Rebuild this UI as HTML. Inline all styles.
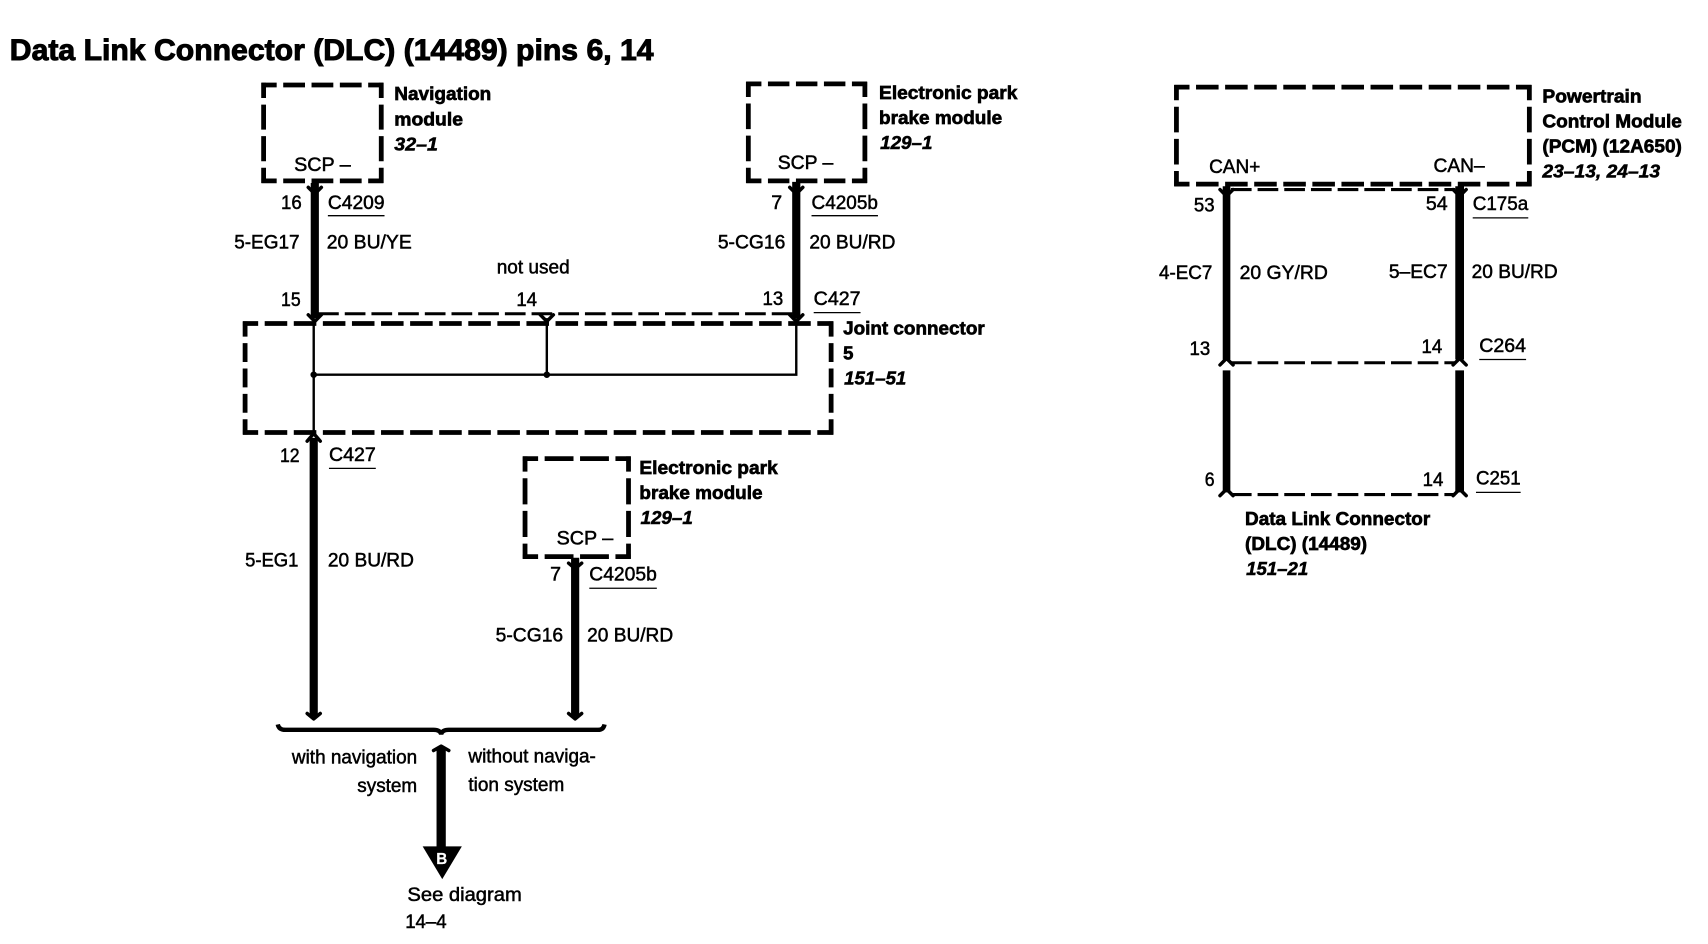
<!DOCTYPE html>
<html><head><meta charset="utf-8"><style>
html,body{margin:0;padding:0;background:#fff;width:1708px;height:944px;overflow:hidden}
svg{display:block}
text{font-family:"Liberation Sans",sans-serif;font-size:17.5px;fill:#000;stroke:#000;stroke-width:.45}
.b{font-weight:bold;font-size:17px;stroke-width:.6}
.i{font-weight:bold;font-style:italic;font-size:17px;stroke-width:.5}
.bx{fill:none;stroke:#000;stroke-width:4.4}
.dl{fill:none;stroke:#000;stroke-width:2.8;stroke-dasharray:19 5.5}
.w{stroke:#000;fill:none}
.t{stroke:#000;stroke-width:2.2;fill:none}
.f{stroke:#000;stroke-width:3.2;fill:none;stroke-linecap:round;stroke-linejoin:round}
.u{stroke:#000;stroke-width:1.2}
</style></head><body>
<svg xmlns="http://www.w3.org/2000/svg" width="1708" height="944" viewBox="0 0 1568 866.6">
<rect width="1568" height="866.6" fill="#fff"/>
<text x="9" y="55" class="b" style="font-size:27.5px;stroke-width:.9" textLength="591" lengthAdjust="spacingAndGlyphs">Data Link Connector (DLC) (14489) pins 6, 14</text>

<!-- Navigation module -->
<path class="bx" stroke-dasharray="20 6" stroke-dashoffset="6" d="M240 78H352M240 166H352"/>
<path class="bx" stroke-dasharray="23 6" stroke-dashoffset="9" d="M242 76V168M350 76V168"/>
<text x="362" y="92" class="b" textLength="89" lengthAdjust="spacingAndGlyphs">Navigation</text>
<text x="362" y="115" class="b" textLength="63" lengthAdjust="spacingAndGlyphs">module</text>
<text x="362" y="138" class="i" textLength="40" lengthAdjust="spacingAndGlyphs">32–1</text>
<text x="270" y="157" textLength="52" lengthAdjust="spacingAndGlyphs">SCP –</text>
<path class="w" stroke-width="7.5" d="M289 168V292"/>
<path class="f" d="M283 172L289 178L295 172M283 289L289 295L295 289"/>
<text x="258" y="192" textLength="19" lengthAdjust="spacingAndGlyphs">16</text>
<text x="301" y="192" textLength="52" lengthAdjust="spacingAndGlyphs">C4209</text><path class="u" d="M301 198H353"/>
<text x="215" y="228" textLength="60" lengthAdjust="spacingAndGlyphs">5-EG17</text>
<text x="300" y="228" textLength="78" lengthAdjust="spacingAndGlyphs">20 BU/YE</text>

<!-- top dashed & labels -->
<text x="456" y="251" textLength="67" lengthAdjust="spacingAndGlyphs">not used</text>
<text x="258" y="281" textLength="18" lengthAdjust="spacingAndGlyphs">15</text>
<text x="474" y="281" textLength="19" lengthAdjust="spacingAndGlyphs">14</text>
<text x="700" y="280" textLength="19" lengthAdjust="spacingAndGlyphs">13</text>
<text x="747" y="280" textLength="43" lengthAdjust="spacingAndGlyphs">C427</text><path class="u" d="M747 287H790"/>
<path class="dl" d="M292 288H730"/>
<path class="f" d="M496 289L502 295L508 289"/>

<!-- Joint connector -->
<path class="bx" stroke-dasharray="20.7 6" stroke-dashoffset="6.7" d="M223 297H765M223 397H765"/>
<path class="bx" stroke-dasharray="17.3 6" stroke-dashoffset="3.3" d="M225 295V399M763 295V399"/>
<path class="t" d="M288 292V400M502 292V344M731 292V344H288"/>
<circle cx="288" cy="344" r="3"/><circle cx="502" cy="344" r="3"/>
<text x="774" y="307" class="b" textLength="130" lengthAdjust="spacingAndGlyphs">Joint connector</text>
<text x="774" y="330" class="b">5</text>
<text x="775" y="353" class="i" textLength="57" lengthAdjust="spacingAndGlyphs">151–51</text>

<!-- EPB top -->
<path class="bx" stroke-dasharray="19.7 6" stroke-dashoffset="5.7" d="M685 77H796M685 166H796"/>
<path class="bx" stroke-dasharray="23.5 6" stroke-dashoffset="9.5" d="M687 75V168M794 75V168"/>
<text x="807" y="91" class="b" textLength="127" lengthAdjust="spacingAndGlyphs">Electronic park</text>
<text x="807" y="114" class="b" textLength="113" lengthAdjust="spacingAndGlyphs">brake module</text>
<text x="808" y="137" class="i" textLength="48" lengthAdjust="spacingAndGlyphs">129–1</text>
<text x="714" y="155" textLength="51" lengthAdjust="spacingAndGlyphs">SCP –</text>
<path class="w" stroke-width="7.5" d="M731 167V292"/>
<path class="f" d="M725 172L731 178L737 172M725 289L731 295L737 289"/>
<text x="708" y="192" textLength="10" lengthAdjust="spacingAndGlyphs">7</text>
<text x="745" y="192" textLength="61" lengthAdjust="spacingAndGlyphs">C4205b</text><path class="u" d="M745 198H806"/>
<text x="659" y="228" textLength="62" lengthAdjust="spacingAndGlyphs">5-CG16</text>
<text x="743" y="228" textLength="79" lengthAdjust="spacingAndGlyphs">20 BU/RD</text>

<!-- lower left -->
<text x="257" y="424" textLength="18" lengthAdjust="spacingAndGlyphs">12</text>
<text x="302" y="423" textLength="43" lengthAdjust="spacingAndGlyphs">C427</text><path class="u" d="M302 430H345"/>
<path class="w" stroke-width="7.5" d="M288 402V658"/>
<path class="f" d="M282 405L288 398L294 405M282 655L288 660L294 655"/>
<text x="225" y="520" textLength="49" lengthAdjust="spacingAndGlyphs">5-EG1</text>
<text x="301" y="520" textLength="79" lengthAdjust="spacingAndGlyphs">20 BU/RD</text>

<!-- EPB lower -->
<path class="bx" stroke-dasharray="26.5 6" stroke-dashoffset="12.5" d="M480 421H579M480 511H579"/>
<path class="bx" stroke-dasharray="24 6" stroke-dashoffset="10" d="M482 419V513M577 419V513"/>
<text x="587" y="435" class="b" textLength="127" lengthAdjust="spacingAndGlyphs">Electronic park</text>
<text x="587" y="458" class="b" textLength="113" lengthAdjust="spacingAndGlyphs">brake module</text>
<text x="588" y="481" class="i" textLength="48" lengthAdjust="spacingAndGlyphs">129–1</text>
<text x="511" y="500" textLength="52" lengthAdjust="spacingAndGlyphs">SCP –</text>
<path class="w" stroke-width="7.5" d="M528 512V658"/>
<path class="f" d="M522 517L528 522L534 517M522 655L528 660L534 655"/>
<text x="505" y="533" textLength="10" lengthAdjust="spacingAndGlyphs">7</text>
<text x="541" y="533" textLength="62" lengthAdjust="spacingAndGlyphs">C4205b</text><path class="u" d="M541 540H603"/>
<text x="455" y="589" textLength="62" lengthAdjust="spacingAndGlyphs">5-CG16</text>
<text x="539" y="589" textLength="79" lengthAdjust="spacingAndGlyphs">20 BU/RD</text>

<!-- bracket -->
<path fill="none" stroke="#000" stroke-width="4" d="M255 665Q256 670 262 670H398Q404 670 405 674Q406 670 412 670H549Q554 670 555 665"/>
<text x="268" y="701" textLength="115" lengthAdjust="spacingAndGlyphs">with navigation</text>
<text x="328" y="727" textLength="55" lengthAdjust="spacingAndGlyphs">system</text>
<text x="430" y="700" textLength="117" lengthAdjust="spacingAndGlyphs">without naviga-</text>
<text x="430" y="726" textLength="88" lengthAdjust="spacingAndGlyphs">tion system</text>
<path class="w" stroke-width="8.5" d="M405 686V780"/>
<path class="f" d="M398 689L405 685L412 689"/>
<path d="M388 777H424L406 807Z"/>
<text x="405.5" y="793" text-anchor="middle" style="fill:#fff;stroke:#fff;font-size:14px;font-weight:bold;stroke-width:.2">B</text>
<text x="374" y="827" textLength="105" lengthAdjust="spacingAndGlyphs">See diagram</text>
<text x="372" y="852" textLength="38" lengthAdjust="spacingAndGlyphs">14–4</text>

<!-- PCM -->
<path class="bx" stroke-dasharray="20.7 6" stroke-dashoffset="6.7" d="M1078 80H1406M1078 169H1406"/>
<path class="bx" stroke-dasharray="23.5 6" stroke-dashoffset="9.5" d="M1080 78V171M1404 78V171"/>
<text x="1416" y="94" class="b" textLength="91" lengthAdjust="spacingAndGlyphs">Powertrain</text>
<text x="1416" y="117" class="b" textLength="128" lengthAdjust="spacingAndGlyphs">Control Module</text>
<text x="1416" y="140" class="b" textLength="128" lengthAdjust="spacingAndGlyphs">(PCM) (12A650)</text>
<text x="1416" y="163" class="i" textLength="108" lengthAdjust="spacingAndGlyphs">23–13, 24–13</text>
<text x="1110" y="159" textLength="47" lengthAdjust="spacingAndGlyphs">CAN+</text>
<text x="1316" y="158" textLength="47" lengthAdjust="spacingAndGlyphs">CAN–</text>
<path class="w" stroke-width="7" d="M1126 171V330M1126 340V452"/>
<path class="w" stroke-width="8" d="M1340 171V330M1340 340V452"/>
<path class="dl" d="M1130 174H1336M1130 333H1336M1130 454H1336"/>
<path class="f" d="M1120 174L1126 180L1132 174M1334 174L1340 180L1346 174M1120 335L1126 329L1132 335M1334 335L1340 329L1346 335M1120 455L1126 449L1132 455M1334 455L1340 449L1346 455"/>
<text x="1096" y="194" textLength="19" lengthAdjust="spacingAndGlyphs">53</text>
<text x="1309" y="193" textLength="20" lengthAdjust="spacingAndGlyphs">54</text>
<text x="1352" y="193" textLength="51" lengthAdjust="spacingAndGlyphs">C175a</text><path class="u" d="M1352 200H1403"/>
<text x="1064" y="256" textLength="49" lengthAdjust="spacingAndGlyphs">4-EC7</text>
<text x="1138" y="256" textLength="81" lengthAdjust="spacingAndGlyphs">20 GY/RD</text>
<text x="1275" y="255" textLength="54" lengthAdjust="spacingAndGlyphs">5–EC7</text>
<text x="1351" y="255" textLength="79" lengthAdjust="spacingAndGlyphs">20 BU/RD</text>
<text x="1092" y="326" textLength="19" lengthAdjust="spacingAndGlyphs">13</text>
<text x="1305" y="324" textLength="19" lengthAdjust="spacingAndGlyphs">14</text>
<text x="1358" y="323" textLength="43" lengthAdjust="spacingAndGlyphs">C264</text><path class="u" d="M1358 330H1401"/>
<text x="1106" y="446" textLength="9" lengthAdjust="spacingAndGlyphs">6</text>
<text x="1306" y="446" textLength="19" lengthAdjust="spacingAndGlyphs">14</text>
<text x="1355" y="445" textLength="41" lengthAdjust="spacingAndGlyphs">C251</text><path class="u" d="M1355 452H1396"/>
<text x="1143" y="482" class="b" textLength="170" lengthAdjust="spacingAndGlyphs">Data Link Connector</text>
<text x="1143" y="505" class="b" textLength="112" lengthAdjust="spacingAndGlyphs">(DLC) (14489)</text>
<text x="1144" y="528" class="i" textLength="57" lengthAdjust="spacingAndGlyphs">151–21</text>
</svg>
</body></html>
